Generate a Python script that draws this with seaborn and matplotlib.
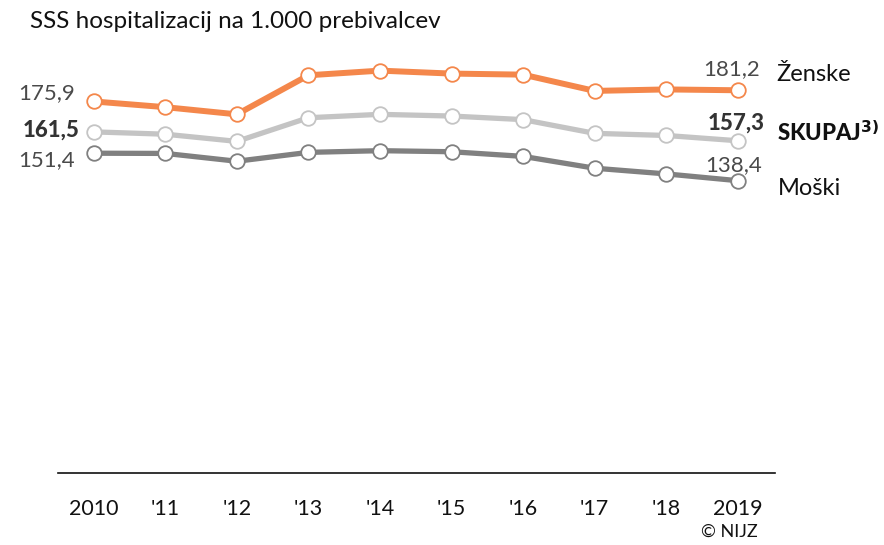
import pandas as pd
import matplotlib.pyplot as plt
import seaborn as sns

years = [2010, 2011, 2012, 2013, 2014, 2015, 2016, 2017, 2018, 2019]
tick_labels = ["2010", "'11", "'12", "'13", "'14", "'15", "'16", "'17", "'18", "2019"]
zenske = [175.9, 173.2, 169.8, 188.3, 190.5, 189.1, 188.6, 180.9, 181.6, 181.2]
skupaj = [161.5, 160.4, 157.0, 168.2, 169.8, 169.0, 167.3, 160.8, 159.8, 157.3]
moski = [151.4, 151.3, 147.6, 151.8, 152.6, 152.1, 149.9, 144.3, 141.6, 138.4]

series_names = ["Ženske", "SKUPAJ", "Moški"]
colors = ["#F4874B", "#C4C4C4", "#808080"]

sns.set_style("white")
plt.rcParams['font.family'] = ['Lato', 'DejaVu Sans']

fig = plt.figure(figsize=(8.84, 5.45), dpi=100)
ax = fig.add_axes([58 / 884, 72 / 545, 717 / 884, 433 / 545])

for vals, name, col in zip([zenske, skupaj, moski], series_names, colors):
    df = pd.DataFrame({'leto': years, 'vrednost': vals})
    lw = 4.3 if name == "Ženske" else 3.8
    sns.lineplot(data=df, x='leto', y='vrednost', ax=ax, color=col, linewidth=lw,
                 marker='o', markersize=10.5, markerfacecolor='white',
                 markeredgecolor=col, markeredgewidth=1.3)

ax.set_xlim(2009.5, 2019.52)
ax.set_ylim(0, 205)
ax.set_xticks(years)
ax.set_xticklabels(tick_labels, fontsize=15.5, color='#111111')
ax.set_yticks([])
ax.set_xlabel('')
ax.set_ylabel('')
ax.tick_params(axis='x', length=0, pad=19)
for s in ['top', 'left', 'right']:
    ax.spines[s].set_visible(False)
ax.spines['bottom'].set_color('#111111')
ax.spines['bottom'].set_linewidth(1.2)

txt = '#4a4a4a'
fs = 16
# vrednosti na zacetku
ax.annotate("175,9", (years[0], zenske[0]), xytext=(-19, 8), textcoords='offset pixels',
            ha='right', va='center', fontsize=fs, color=txt)
ax.annotate("161,5", (years[0], skupaj[0]), xytext=(-14, 2), textcoords='offset pixels',
            ha='right', va='center', fontsize=fs, color='#333333', fontweight='black')
ax.annotate("151,4", (years[0], moski[0]), xytext=(-19, -7), textcoords='offset pixels',
            ha='right', va='center', fontsize=fs, color=txt)
# vrednosti na koncu
ax.annotate("181,2", (years[-1], zenske[-1]), xytext=(22, 21), textcoords='offset pixels',
            ha='right', va='center', fontsize=fs, color=txt)
ax.annotate("157,3", (years[-1], skupaj[-1]), xytext=(27, 18), textcoords='offset pixels',
            ha='right', va='center', fontsize=fs, color='#333333', fontweight='black')
ax.annotate("138,4", (years[-1], moski[-1]), xytext=(24, 16), textcoords='offset pixels',
            ha='right', va='center', fontsize=fs, color=txt)
# imena serij
ax.annotate("Ženske", (years[-1], zenske[-1]), xytext=(39, 16), textcoords='offset pixels',
            ha='left', va='center', fontsize=17, color='#111111', annotation_clip=False)
ax.annotate(r"SKUPAJ$^{\mathbf{3)}}$", (years[-1], skupaj[-1]), xytext=(39, 8),
            textcoords='offset pixels', ha='left', va='center', fontsize=16,
            color='#111111', fontweight='black', annotation_clip=False)
ax.annotate("Moški", (years[-1], moski[-1]), xytext=(40, -8), textcoords='offset pixels',
            ha='left', va='center', fontsize=17, color='#111111', annotation_clip=False)

fig.text(30 / 884, 1 - 22 / 545, "SSS hospitalizacij na 1.000 prebivalcev",
         ha='left', va='center', fontsize=17.5, color='#111111')
fig.text(758 / 884, 1 - 532 / 545, "© NIJZ", ha='right', va='center',
         fontsize=13, color='#111111')

fig.savefig('out.png', dpi=100)
